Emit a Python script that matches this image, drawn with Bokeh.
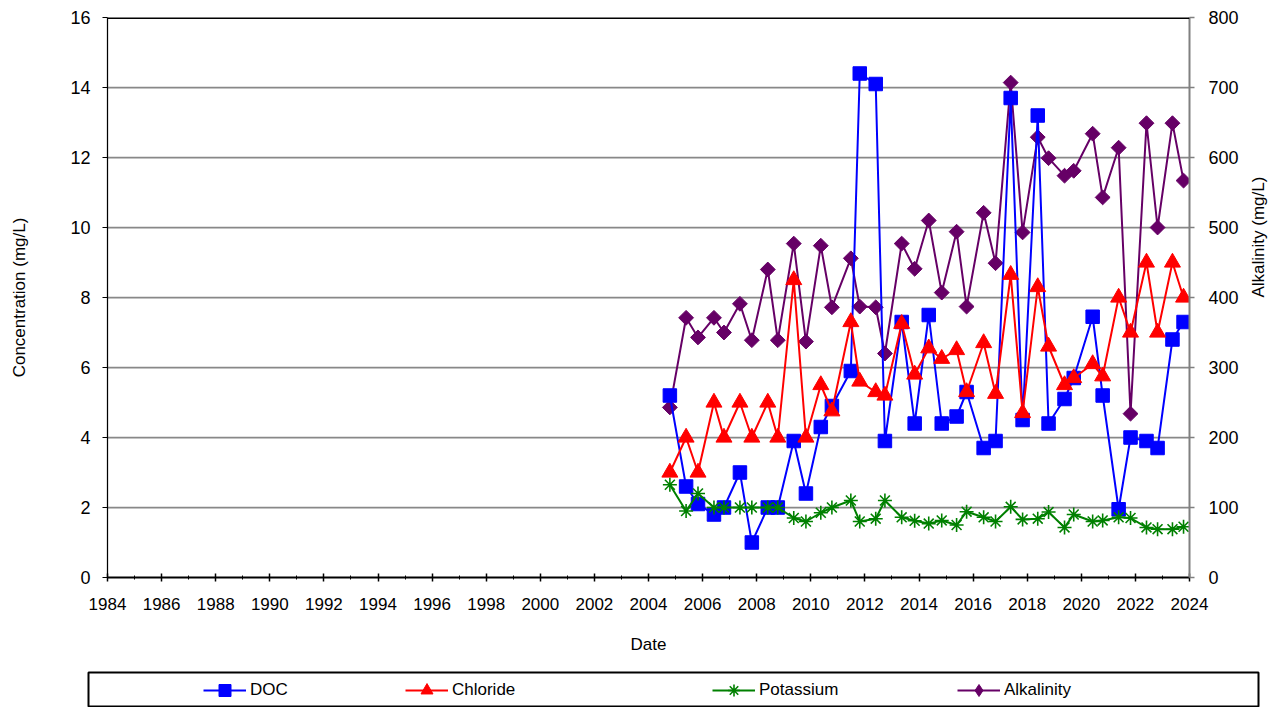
import math
from bokeh.plotting import figure
from bokeh.models import (Range1d, LinearAxis, FixedTicker, Legend, LegendItem,
                          Span, ColumnDataSource)
from bokeh.embed import file_html
from bokeh.resources import INLINE

# ---- data ----
dates = [2004.79, 2005.39, 2005.83, 2006.42, 2006.79, 2007.38, 2007.82, 2008.41,
         2008.78, 2009.37, 2009.82, 2010.37, 2010.78, 2011.48, 2011.81, 2012.40,
         2012.74, 2013.36, 2013.84, 2014.36, 2014.84, 2015.39, 2015.76, 2016.39,
         2016.83, 2017.39, 2017.83, 2018.39, 2018.79, 2019.38, 2019.72, 2020.42,
         2020.79, 2021.38, 2021.82, 2022.41, 2022.82, 2023.37, 2023.78]
doc = [5.2, 2.6, 2.1, 1.8, 2.0, 3.0, 1.0, 2.0,
       2.0, 3.9, 2.4, 4.3, 4.9, 5.9, 14.4, 14.1,
       3.9, 7.3, 4.4, 7.5, 4.4, 4.6, 5.3, 3.7,
       3.9, 13.7, 4.5, 13.2, 4.4, 5.1, 5.7, 7.45,
       5.2, 1.95, 4.0, 3.9, 3.7, 6.8, 7.3]
chloride = [3.0, 4.0, 3.0, 5.0, 4.0, 5.0, 4.0, 5.0,
            4.0, 8.5, 4.0, 5.5, 4.75, 7.3, 5.6, 5.3,
            5.2, 7.25, 5.8, 6.55, 6.25, 6.5, 5.3, 6.7,
            5.25, 8.65, 4.7, 8.3, 6.6, 5.5, 5.7, 6.1,
            5.75, 8.0, 7.0, 9.0, 7.0, 9.0, 8.0]
potassium = [2.65, 1.9, 2.4, 2.0, 2.0, 2.0, 2.0, 2.0,
             2.0, 1.7, 1.6, 1.85, 2.0, 2.2, 1.6, 1.68,
             2.2, 1.72, 1.62, 1.54, 1.63, 1.5, 1.88, 1.72,
             1.6, 2.02, 1.66, 1.68, 1.87, 1.43, 1.8, 1.6,
             1.63, 1.72, 1.7, 1.43, 1.38, 1.38, 1.45]
alkalinity = [243, 371, 343, 371, 350, 391, 339, 440,
              339, 477, 337, 474, 386, 456, 387, 386,
              320, 477, 441, 510, 407, 494, 387, 521,
              449, 707, 493, 629, 599, 574, 581, 634,
              543, 614, 234, 649, 500, 649, 567]

year_ticks = list(range(1984, 2025, 2))
minor_years = list(range(1985, 2024, 2))
conc_ticks = list(range(0, 17, 2))
alk_ticks = list(range(0, 801, 100))

series_names = ["DOC", "Chloride", "Potassium", "Alkalinity"]

# ---- styling ----
FONT = "Liberation Sans"
BLUE, RED, GREEN, PURPLE = "#0000FF", "#FF0000", "#008000", "#660066"
W = 1280

p = figure(width=W, height=660, x_range=Range1d(1984, 2024), y_range=Range1d(0, 16),
           output_backend="svg", toolbar_location=None,
           min_border_left=107, min_border_right=W - 1190, min_border_top=17,
           min_border_bottom=83)
p.outline_line_color = None
p.background_fill_color = "white"
p.border_fill_color = "white"
p.extra_y_ranges = {"alk": Range1d(0, 800)}

# grid
p.xgrid.visible = False
p.ygrid.ticker = FixedTicker(ticks=conc_ticks)
p.ygrid.grid_line_color = "#888888"
p.ygrid.grid_line_width = 1.75

# x axis
xa = p.xaxis[0]
xa.ticker = FixedTicker(ticks=year_ticks, minor_ticks=minor_years)
xa.axis_label = "Date"
xa.axis_line_color = "black"
xa.axis_line_width = 2
xa.major_tick_line_color = "black"
xa.major_tick_line_width = 1.5
xa.major_tick_in = 4
xa.major_tick_out = 4
xa.minor_tick_line_color = "black"
xa.minor_tick_in = 2
xa.minor_tick_out = 2
xa.major_label_standoff = 16
xa.major_label_text_font = FONT
xa.major_label_text_font_size = "17px"
xa.major_label_text_color = "black"
xa.axis_label_text_font = FONT
xa.axis_label_text_font_size = "17px"
xa.axis_label_text_font_style = "normal"
xa.axis_label_text_color = "black"
xa.axis_label_standoff = 22

# left axis
ya = p.yaxis[0]
ya.ticker = FixedTicker(ticks=conc_ticks)
ya.axis_label = "Concentration (mg/L)"
ya.axis_line_color = "black"
ya.axis_line_width = 1.25
ya.major_tick_line_color = "black"
ya.major_tick_in = 0
ya.major_tick_out = 5
ya.minor_tick_line_color = None
ya.major_label_standoff = 12
ya.major_label_text_font = FONT
ya.major_label_text_font_size = "18px"
ya.major_label_text_color = "black"
ya.axis_label_text_font = FONT
ya.axis_label_text_font_size = "17px"
ya.axis_label_text_font_style = "normal"
ya.axis_label_text_color = "black"
ya.axis_label_standoff = 38

# right axis
ra = LinearAxis(y_range_name="alk", ticker=FixedTicker(ticks=alk_ticks),
                axis_label="Alkalinity (mg/L)")
ra.axis_line_color = "#808080"
ra.axis_line_width = 2
ra.major_tick_line_color = "#808080"
ra.major_tick_line_width = 1.5
ra.major_tick_in = 0
ra.major_tick_out = 5
ra.minor_tick_line_color = None
ra.major_label_standoff = 14
ra.major_label_text_font = FONT
ra.major_label_text_font_size = "18px"
ra.major_label_text_color = "black"
ra.axis_label_text_font = FONT
ra.axis_label_text_font_size = "17px"
ra.axis_label_text_font_style = "normal"
ra.axis_label_text_color = "black"
ra.axis_label_standoff = 17
try:
    ra.axis_label_orientation = math.pi / 2
except Exception:
    pass
p.add_layout(ra, "right")

# thick top border
p.add_layout(Span(location=16, dimension="width", line_color="black", line_width=3))

# ---- series ----
src = ColumnDataSource(dict(date=dates, doc=doc, chl=chloride, k=potassium, alk=alkalinity))


def add_series(fig, extra):
    kw = dict(y_range_name="alk") if extra else {}
    if extra:
        mk = dict(marker="square", angle=math.pi / 4, size=10.5)
    else:
        mk = dict(marker="diamond", size=15)
    a_l = fig.line("date", "alk", source=src, line_color=PURPLE, line_width=2, **kw)
    a_m = fig.scatter("date", "alk", source=src, fill_color=PURPLE, line_color=PURPLE,
                      **mk, **kw)
    d_l = fig.line("date", "doc", source=src, line_color=BLUE, line_width=2)
    d_m = fig.scatter("date", "doc", source=src, marker="square", size=13.5,
                      fill_color=BLUE, line_color=BLUE)
    c_l = fig.line("date", "chl", source=src, line_color=RED, line_width=2)
    c_m = fig.scatter("date", "chl", source=src, marker="triangle", size=16,
                      fill_color=RED, line_color=RED)
    k_l = fig.line("date", "k", source=src, line_color=GREEN, line_width=2)
    k_m = fig.scatter("date", "k", source=src, marker="asterisk", size=14,
                      line_color=GREEN, line_width=1.6)
    return [[d_l, d_m], [c_l, c_m], [k_l, k_m], [a_l, a_m]]


add_series(p, True)

# ---- legend strip (its own boxed panel under the chart) ----
lg_fig = figure(width=W, height=47, x_range=Range1d(0, 1), y_range=Range1d(0, 1),
                output_backend="svg", toolbar_location=None,
                x_axis_location=None, y_axis_location=None,
                min_border_left=88, min_border_right=W - 1258,
                min_border_top=12, min_border_bottom=1)
lg_fig.xgrid.visible = False
lg_fig.ygrid.visible = False
lg_fig.outline_line_color = "black"
lg_fig.outline_line_width = 2
lg_fig.background_fill_color = "white"
lg_fig.border_fill_color = "white"
legend_rends = add_series(lg_fig, False)

x_offsets = [115, 317, 624, 869]
for name, rends, xloc in zip(series_names, legend_rends, x_offsets):
    lg = Legend(items=[LegendItem(label=name, renderers=rends)], location=(xloc, 1),
                orientation="horizontal", border_line_color=None, background_fill_alpha=0,
                padding=0, margin=0, spacing=0, glyph_width=43, glyph_height=30,
                label_standoff=4, label_text_font=FONT, label_text_font_size="17px",
                label_text_color="black")
    lg_fig.add_layout(lg, "center")

open("out.html", "w").write(file_html([p, lg_fig], INLINE))
